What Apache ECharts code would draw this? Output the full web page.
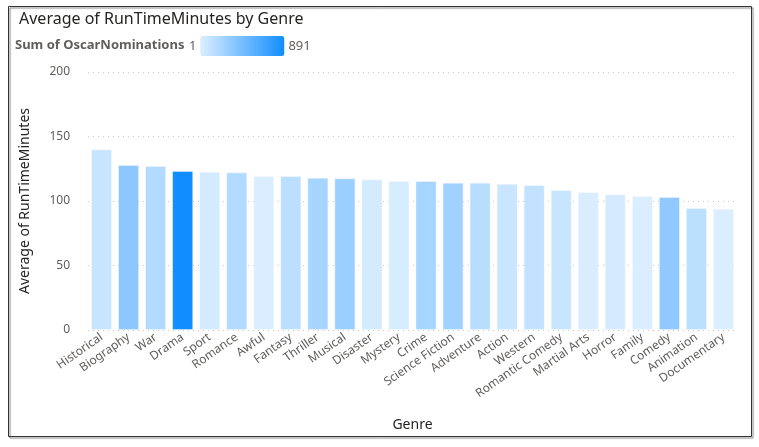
<!DOCTYPE html>
<html>
<head>
<meta charset="utf-8">
<script src="https://cdn.jsdelivr.net/npm/echarts@6/dist/echarts.min.js"></script>
<style>
  html, body { margin: 0; padding: 0; background: #fff; }
  #chart { width: 759px; height: 447px; }
</style>
</head>
<body>
<div id="chart"></div>
<script>
// genres, sorted by average runtime
const genres = [
  "Historical", "Biography", "War", "Drama", "Sport", "Romance", "Awful",
  "Fantasy", "Thriller", "Musical", "Disaster", "Mystery", "Crime",
  "Science Fiction", "Adventure", "Action", "Western", "Romantic Comedy",
  "Martial Arts", "Horror", "Family", "Comedy", "Animation", "Documentary"
];
const avgRunTime = [
  140.1, 127.9, 127.1, 123.3, 122.7, 122.2, 119.4,
  119.4, 118.1, 117.6, 116.8, 115.5, 115.5,
  114.2, 114.2, 113.4, 112.4, 108.5,
  107.0, 105.2, 103.9, 103.1, 94.6, 94.0
];
const oscarNominations = [
  85, 349, 177, 891, 36, 177, 1,
  138, 234, 287, 36, 23, 234,
  256, 160, 80, 111, 85,
  10, 32, 3, 336, 142, 2
];
const yTicks = [0, 50, 100, 150, 200];

const font = "'Noto Sans', 'Open Sans', sans-serif";
const chart = echarts.init(document.getElementById("chart"));

const option = {
  animation: false,
  textStyle: { fontFamily: font },
  title: {
    text: "Average of RunTimeMinutes by Genre",
    left: 14,
    top: 6,
    textStyle: { fontFamily: font, fontSize: 16, fontWeight: "normal", color: "#252423" }
  },
  graphic: [
    {
      type: "rect",
      shape: { x: 8.5, y: 6.5, width: 743, height: 430 },
      style: { fill: "none", stroke: "#333", lineWidth: 1, shadowColor: "rgba(0,0,0,0.5)", shadowOffsetX: 1.5, shadowOffsetY: 1.5, shadowBlur: 1 },
      silent: true
    },
    {
      type: "text",
      left: 15,
      top: 39,
      style: { text: "Sum of OscarNominations", font: "bold 13px " + font, fill: "#605e5c" }
    }
  ],
  visualMap: {
    type: "continuous",
    orient: "horizontal",
    min: 1,
    max: 891,
    dimension: 1,
    seriesIndex: 0,
    calculable: false,
    padding: 0,
    left: 189,
    top: 36,
    itemWidth: 20,
    itemHeight: 84,
    text: ["891", "1"],
    textGap: 4,
    textStyle: { fontFamily: font, fontSize: 13, color: "#605e5c" },
    inRange: { color: ["#dbeeff", "#118dff"] }
  },
  grid: { left: 88, right: 22, top: 72, bottom: 117 },
  xAxis: {
    type: "category",
    data: genres,
    name: "Genre",
    nameLocation: "middle",
    nameGap: 88,
    nameTextStyle: { fontFamily: font, fontSize: 14, color: "#252423" },
    axisLine: { show: false },
    axisTick: { show: false },
    axisLabel: { rotate: 35, interval: 0, margin: 6, fontSize: 12, color: "#605e5c", fontFamily: font }
  },
  yAxis: {
    type: "value",
    min: yTicks[0],
    max: yTicks[yTicks.length - 1],
    interval: 50,
    name: "Average of RunTimeMinutes",
    nameLocation: "middle",
    nameGap: 56,
    nameTextStyle: { fontFamily: font, fontSize: 14, color: "#252423" },
    axisLine: { show: false },
    axisTick: { show: false },
    axisLabel: { fontSize: 12, color: "#605e5c", margin: 18, fontFamily: font },
    splitLine: { lineStyle: { type: [1, 4], color: "#c8c6c4", width: 1 } }
  },
  series: [{
    type: "bar",
    data: genres.map((g, i) => [g, oscarNominations[i], avgRunTime[i]]),
    encode: { x: 0, y: 2 },
    barCategoryGap: "22%",
    itemStyle: { borderColor: "rgba(255,255,255,0.35)", borderWidth: 1 }
  }]
};

chart.setOption(option);
</script>
</body>
</html>
